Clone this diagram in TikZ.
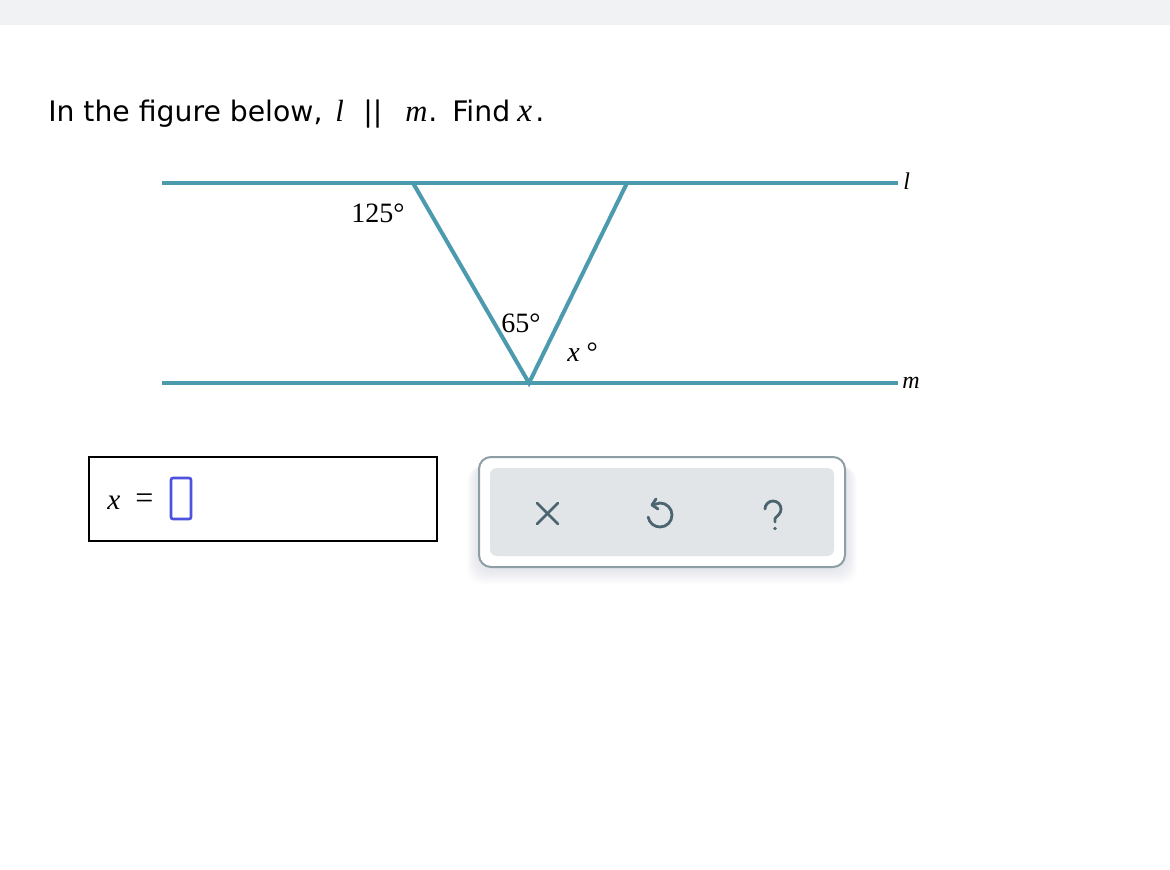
\documentclass[tikz,border=0pt]{standalone}
\usepackage{fontspec}
\setmainfont{DejaVu Sans}
\newfontfamily\tserif{Liberation Serif}
\usetikzlibrary{arrows.meta}
\definecolor{lineteal}{RGB}{76,154,174}
\definecolor{topbar}{RGB}{241,242,244}
\definecolor{panelborder}{RGB}{142,158,165}
\definecolor{panelfill}{RGB}{225,229,232}
\definecolor{icon}{RGB}{75,101,112}
\definecolor{inputblue}{RGB}{78,82,222}
\definecolor{shadowc}{RGB}{110,135,150}
\tikzset{
  geoline/.style={lineteal, line width=3pt},
  lbl/.style={inner sep=0pt, font=\tserif\fontsize{21}{24}\selectfont},
  ttl/.style={inner sep=0pt, anchor=base west, font=\fontsize{21.2}{24}\selectfont},
  ttlmath/.style={inner sep=0pt, anchor=base west, font=\tserif\itshape\fontsize{23}{26}\selectfont},
  iconline/.style={icon, line width=2.1pt, line cap=round, line join=round},
}
\begin{document}
\begin{tikzpicture}[x=0.75pt,y=-0.75pt]
\useasboundingbox (0,0) rectangle (1170,870);
\fill[white] (0,0) rectangle (1170,870);
\fill[topbar] (0,0) rectangle (1170,25);

% title
\node[ttl] (t1) at (48,122) {In the figure below,};
\node[ttlmath] (tl) at (335,122) {l};
\node[ttl] (tpar) at (363,122) {||};
\node[ttlmath] (tm) at (405,122) {m};
\node[ttl] (tdot) at (428,122) {.};
\node[ttl] (tfind) at (452,122) {Find};
\node[ttlmath, font=\tserif\itshape\fontsize{25}{28}\selectfont] (tx) at (517,122) {x};
\node[ttl] (tdot2) at (535,122) {.};

% geometry
\coordinate (L1) at (162,183);
\coordinate (L2) at (898,183);
\coordinate (M1) at (162,383);
\coordinate (M2) at (898,383);
\coordinate (A) at (413,183);
\coordinate (B) at (627,183);
\coordinate (V) at (529,383);
\draw[geoline] (L1) -- (L2);
\draw[geoline] (M1) -- (M2);
\draw[geoline, line join=miter] (A) -- (V) -- (B);

\node[lbl, anchor=base west] (a125) at (351,222) {125°};
\node[lbl, anchor=base west] (a65) at (501,332) {65°};
\node[lbl, anchor=base west] (ax) at (567,361) {\itshape x\hspace{0.25em}\upshape°};
\node[lbl, anchor=west, font=\tserif\itshape\fontsize{18}{20}\selectfont] (lname) at (903,181) {l};
\node[lbl, anchor=west, font=\tserif\itshape\fontsize{18}{20}\selectfont] (mname) at (902,383) {m};

% answer box
\draw[black, line width=1.5pt] (89,457) rectangle (437,541);
\node[lbl, anchor=base west, font=\tserif\itshape\fontsize{22}{24}\selectfont] (xvar) at (107,509) {x};
\node[lbl, anchor=center, font=\tserif\fontsize{24}{26}\selectfont] (xeq) at (144.5,501) {=};
\draw[inputblue, line width=2pt, rounded corners=1.5pt] (171,478) rectangle (191,519);

% button panel shadow
\foreach \s in {1,...,10} {
  \fill[shadowc, opacity=0.02, rounded corners=12pt] (480-\s*1.3,460+\s*0.6) rectangle (844+\s*1.3,566+\s*1.8);
}
\fill[white, rounded corners=9pt] (479,457) rectangle (845,567);
\draw[panelborder, line width=1.5pt, rounded corners=9pt] (479,457) rectangle (845,567);
\fill[panelfill, rounded corners=5pt] (490,468) rectangle (834,556);

% X icon
\draw[iconline] (537,503) -- (558,524);
\draw[iconline] (558,503) -- (537,524);

% undo icon
\draw[iconline] (652,505) -- (660,503) arc[start angle=270, end angle=530, radius=12];
\draw[iconline] (656,499) -- (652,505) -- (658,509);

% help icon
\draw[iconline] (765,509) arc[start angle=180, end angle=400, radius=8] -- (775,518.5) -- (775,522);
\fill[icon] (775,528.5) circle (1.8);
\end{tikzpicture}
\end{document}
